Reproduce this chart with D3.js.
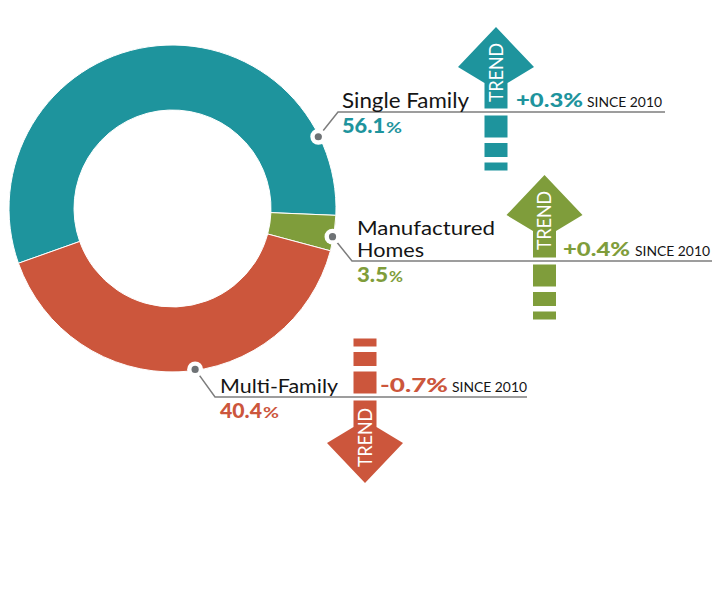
<!DOCTYPE html>
<html>
<head>
<meta charset="utf-8">
<script src="https://cdn.jsdelivr.net/npm/d3@7"></script>
<style>
	body { margin: 0; background: #fff; }
	svg { display: block; }
	text { font-family: Lato, "Open Sans", sans-serif; }
</style>
</head>
<body>
<div id="chart"></div>
<script>
// data
const categories = ['Single Family', 'Manufactured Homes', 'Multi-Family'];
const shares = [56.1, 3.5, 40.4];       // % of housing units
const changes = [0.3, 0.4, -0.7];       // change in share, percentage points
const sinceYear = 2010;
const colors = ['#1e949d', '#7f9d3b', '#cc563c'];

// callout layout, one per category (widths are the text boxes in the original)
const callouts = [
	{ dotAngle: 63.8, lineY: 112, elbowX: 338, lineEnd: 665, textX: 342, wrap: false, nameSize: 21, nameWidths: [127],
	  shareW: 43, pctW: 16, arrowX: 496, arrowTip: 27, changeX: 516, changeW: 67, sinceX: 587 },
	{ dotAngle: 100, lineY: 261, elbowX: 352, lineEnd: 712, textX: 357, wrap: true, nameSize: 18.5, nameWidths: [138, 67],
	  shareW: 31, pctW: 14, arrowX: 544.5, arrowTip: 175, changeX: 563, changeW: 67, sinceX: 635 },
	{ dotAngle: 172, lineY: 397, elbowX: 215, lineEnd: 527, textX: 220, wrap: false, nameSize: 19.5, nameWidths: [118],
	  shareW: 42, pctW: 16, arrowX: 365, arrowTip: 483, changeX: 380, changeW: 68, sinceX: 452 },
];

const width = 721, height = 592;
const center = { x: 172.5, y: 208.5 };
const outerR = 163.5, innerR = 98.5;
const rad = d => d * Math.PI / 180;

const svg = d3.select('#chart').append('svg')
	.attr('width', width)
	.attr('height', height);

// donut, first slice ends just below 3 o'clock
const start = rad(92.4 - shares[0] * 3.6);
const pie = d3.pie()
	.sort(null)
	.value(d => d)
	.startAngle(start)
	.endAngle(start + 2 * Math.PI);

const arc = d3.arc().innerRadius(innerR).outerRadius(outerR);

const donut = svg.append('g').attr('transform', `translate(${center.x}, ${center.y})`);

donut.selectAll('.slice')
	.data(pie(shares))
	.join('path')
	.attr('class', 'slice')
	.attr('d', arc)
	.attr('fill', (d, i) => colors[i])
	.attr('stroke', '#fff')
	.attr('stroke-width', 1);

// arrow geometry
const hw = 38, hl = 40, hb = 56, sw = 11.5;
const blocks = [22, 14, 8], blockGap = 5.5, lineGap = 3.5;

function arrowShape(cx, tip, solidEnd, s) {
	const y = off => tip + s * off;
	return [
		[cx, tip], [cx + hw, y(hl)], [cx + sw, y(hb)], [cx + sw, solidEnd],
		[cx - sw, solidEnd], [cx - sw, y(hb)], [cx - hw, y(hl)]
	].map(p => p.join(',')).join(' ');
}

const fmtChange = v => (v > 0 ? '+' : '-') + Math.abs(v).toFixed(1) + '%';

function fitText(sel, w) {
	return sel.attr('textLength', w).attr('lengthAdjust', 'spacingAndGlyphs');
}

categories.forEach((name, i) => {
	const c = callouts[i];
	const color = colors[i];
	const g = svg.append('g').attr('class', 'callout');

	// trend arrow
	const s = changes[i] >= 0 ? 1 : -1;   // 1 = arrow points up
	const solidEnd = c.lineY - s * lineGap;
	g.append('polygon')
		.attr('points', arrowShape(c.arrowX, c.arrowTip, solidEnd, s))
		.attr('fill', color);

	let y0 = c.lineY + s * lineGap;
	blocks.forEach(len => {
		const y1 = y0 + s * len;
		g.append('rect')
			.attr('x', c.arrowX - sw)
			.attr('y', Math.min(y0, y1))
			.attr('width', sw * 2)
			.attr('height', len)
			.attr('fill', color);
		y0 = y1 + s * blockGap;
	});

	const trendY = c.arrowTip + s * 45.5;
	fitText(g.append('text')
		.attr('transform', `translate(${c.arrowX + 6.5}, ${trendY}) rotate(-90)`)
		.attr('text-anchor', 'middle')
		.attr('fill', '#fff')
		.attr('font-family', '"Open Sans", sans-serif')
		.attr('font-size', 18.5)
		.text('TREND'), 59);

	// leader line and dot
	const a = rad(c.dotAngle);
	const dot = [center.x + (outerR - 1) * Math.sin(a), center.y - (outerR - 1) * Math.cos(a)];
	g.append('path')
		.attr('d', `M${dot[0]},${dot[1]} L${c.elbowX},${c.lineY} H${c.lineEnd}`)
		.attr('fill', 'none')
		.attr('stroke', '#7d7d7d')
		.attr('stroke-width', 1.5);
	g.append('circle').attr('cx', dot[0]).attr('cy', dot[1]).attr('r', 8).attr('fill', '#fff');
	g.append('circle').attr('cx', dot[0]).attr('cy', dot[1]).attr('r', 3.6).attr('fill', '#6e7275');

	// category name
	const lines = c.wrap ? name.split(' ') : [name];
	lines.forEach((line, k) => {
		fitText(g.append('text')
			.attr('x', c.textX)
			.attr('y', c.lineY - 4 - (lines.length - 1 - k) * 22)
			.attr('fill', '#151515')
			.attr('font-size', c.nameSize)
			.text(line), c.nameWidths[k]);
	});

	// share
	fitText(g.append('text')
		.attr('x', c.textX)
		.attr('y', c.lineY + 21)
		.attr('fill', color)
		.attr('font-size', 20.5)
		.attr('font-weight', 900)
		.text(shares[i].toFixed(1)), c.shareW);
	fitText(g.append('text')
		.attr('x', c.textX + c.shareW + 1)
		.attr('y', c.lineY + 21)
		.attr('fill', color)
		.attr('font-size', 16)
		.attr('font-weight', 700)
		.text('%'), c.pctW);

	// change since year
	fitText(g.append('text')
		.attr('x', c.changeX)
		.attr('y', c.lineY - 5)
		.attr('fill', color)
		.attr('font-size', 19.5)
		.attr('font-weight', 900)
		.text(fmtChange(changes[i])), c.changeW);
	fitText(g.append('text')
		.attr('x', c.sinceX)
		.attr('y', c.lineY - 5)
		.attr('fill', '#151515')
		.attr('font-size', 13)
		.text(`SINCE ${sinceYear}`), 75);
});
</script>
</body>
</html>
